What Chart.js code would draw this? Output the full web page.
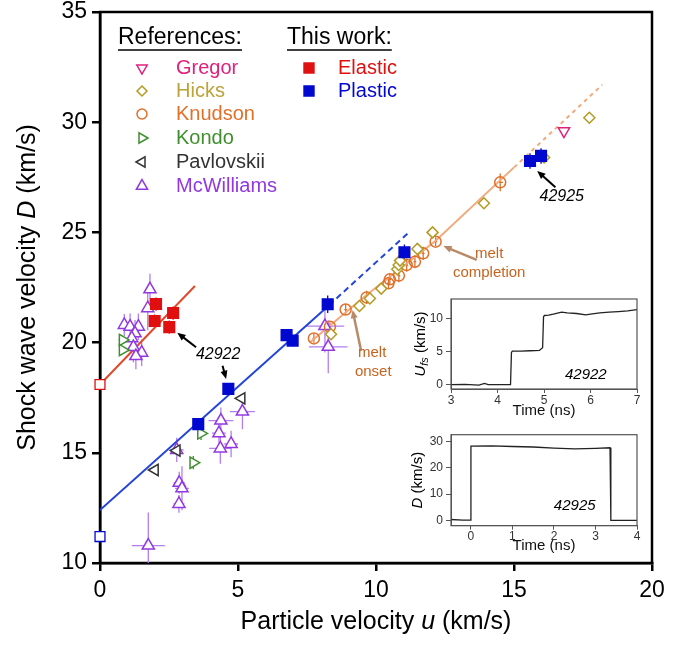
<!DOCTYPE html>
<html>
<head>
<meta charset="utf-8">
<script src="https://cdn.jsdelivr.net/npm/chart.js@4.4.1/dist/chart.umd.min.js"></script>
<style>
  html, body { margin: 0; padding: 0; background: #fff; }
  #wrap { position: relative; width: 688px; height: 647px; }
  canvas { position: absolute; }
</style>
</head>
<body>
<div id="wrap">
  <canvas id="main" width="688" height="647" style="left:0;top:0;width:688px;height:647px"></canvas>
  <canvas id="inset1" width="250" height="128" style="left:395px;top:292px;width:250px;height:128px"></canvas>
  <canvas id="inset2" width="250" height="127" style="left:395px;top:428px;width:250px;height:127px"></canvas>
</div>
<script>
// ---- data: particle velocity u (km/s), shock velocity D (km/s) ----
const gregorU = [16.81];
const gregorD = [29.6];

const hicksU = [8.37, 9.4, 9.78, 10.19, 10.77, 10.82, 10.87, 11.5, 12.05, 13.91, 16.09, 17.73];
const hicksD = [20.38, 21.66, 22.0, 22.45, 23.33, 23.52, 23.72, 24.25, 25.0, 26.32, 28.4, 30.2];

const knudsonU = [7.75, 8.33, 8.9, 9.66, 10.45, 10.5, 10.83, 11.11, 11.41, 11.71, 12.16, 14.5];
const knudsonD = [20.19, 20.72, 21.5, 22.05, 22.69, 22.87, 23.04, 23.52, 23.67, 24.05, 24.58, 27.27];
const knudsonUErr = [0.05, 0.05, 0.05, 0.05, 0.05, 0.05, 0.05, 0.05, 0.05, 0.05, 0.05, 0.1];
const knudsonDErr = [0.2, 0.2, 0.25, 0.3, 0.25, 0.25, 0.3, 0.3, 0.3, 0.3, 0.2, 0.4];

const kondoU = [0.82, 0.82, 3.66, 3.38];
const kondoD = [20.12, 19.66, 15.88, 14.55];
const kondoUErr = [0.15, 0.1, 0.1, 0.1];
const kondoDErr = [0.15, 0.15, 0.3, 0.3];

const pavlovskiiU = [5.13, 1.99, 2.78];
const pavlovskiiD = [17.47, 14.22, 15.1];

const mcwU = [1.81, 1.73, 0.88, 1.09, 1.39, 1.27, 1.15, 1.21, 1.51, 1.3, 4.38, 4.31, 4.36, 4.75, 5.16, 2.78, 2.87, 2.97, 2.86, 1.75, 8.15, 8.27];
const mcwD = [22.42, 21.56, 20.8, 20.72, 20.72, 20.42, 20.2, 19.8, 19.54, 19.39, 16.46, 15.89, 15.2, 15.4, 16.87, 15.13, 13.64, 13.39, 12.68, 10.79, 20.75, 19.81];
const mcwUErr = [0.08, 0.08, 0.1, 0.1, 0.1, 0.1, 0.1, 0.1, 0.1, 0.1, 0.45, 0.25, 0.4, 0.25, 0.45, 0.25, 0.2, 0.25, 0.2, 0.6, 0.7, 0.7];
const mcwDErr = [0.7, 1.0, 0.5, 0.6, 0.6, 0.6, 0.6, 0.7, 0.6, 0.6, 0.6, 0.5, 0.7, 0.6, 0.8, 0.55, 0.5, 1.0, 0.4, 1.5, 1.2, 1.2];

const elasticU = [2.03, 1.98, 2.65, 2.51];
const elasticD = [21.75, 20.98, 21.34, 20.7];
const elasticUErr = [0.1, 0.1, 0.1, 0.1];
const elasticDErr = [0.3, 0.3, 0.3, 0.3];

const plasticU = [3.56, 4.65, 6.76, 6.98, 8.25, 11.03, 15.58, 15.98];
const plasticD = [16.3, 17.9, 20.34, 20.09, 21.74, 24.1, 28.24, 28.47];
const plasticUErr = [0.08, 0.08, 0.08, 0.08, 0.08, 0.08, 0.08, 0.08];
const plasticDErr = [0.25, 0.25, 0.25, 0.25, 0.4, 0.35, 0.35, 0.35];

// intercepts at u = 0 (open squares)
const elasticZeroD = [18.1];
const plasticZeroD = [11.2];

// fit lines
const elasticFitU = [0, 3.44];
const elasticFitD = [18.1, 22.57];
const plasticFitU = [0, 8.3];
const plasticFitD = [12.4, 21.7];
const plasticExtU = [8.3, 11.16];
const plasticExtD = [21.7, 24.97];
const knudsonFitU = [7.6, 9.6, 12.14, 15.0];
const knudsonFitD = [20.0, 22.1, 24.6, 27.95];
const knudsonExtU = [15.0, 18.2];
const knudsonExtD = [27.95, 31.7];

// insets: free-surface velocity (shot 42922) and shock velocity (shot 42925) vs time (ns)
const ufsTime = [3.0, 3.3, 3.6, 3.72, 3.8, 4.0, 4.28, 4.3, 4.32, 4.5, 4.7, 4.9, 4.97, 4.99, 5.01, 5.1, 5.2, 5.38, 5.5, 5.7, 5.9, 6.0, 6.2, 6.4, 6.6, 6.8, 7.0];
const ufsVal  = [0.0, 0.05, -0.05, 0.2, 0.0, 0.0, 0.0, 4.9, 5.1, 5.1, 5.15, 5.2, 5.6, 10.3, 10.5, 10.55, 10.7, 11.0, 10.9, 10.8, 10.6, 10.7, 10.9, 11.0, 11.1, 11.2, 11.4];
const dTime = [-0.48, -0.2, -0.01, 0.0, 0.5, 1.0, 1.5, 2.0, 2.5, 3.0, 3.35, 3.37, 4.0];
const dVal  = [0.3, 0.1, 0.1, 28.3, 28.4, 28.2, 28.0, 27.6, 27.3, 27.5, 27.7, 0.0, 0.0];

// ---- styling ----
const FONT = "'Liberation Sans', Arial, sans-serif";
Chart.defaults.font.family = FONT;

const RED = '#e01010';
const BLUE = '#0008d0';
const PINK = '#e0207a';
const OLIVE = '#b49a22';
const ORANGE = '#e0702a';
const GREEN = '#3f8f2f';
const GREY = '#333333';
const PURPLE = '#9238e0';
const MELT = '#c8631e';
const MELT_ARROW = '#b98a66';

const pts = (us, ds) => us.map((u, i) => ({ x: u, y: ds[i] }));

function markers(label, us, ds, style, extra) {
  return Object.assign({
    label,
    data: pts(us, ds),
    pointStyle: style.shape,
    pointRotation: style.rot || 0,
    pointRadius: style.r,
    borderWidth: 1.5,
    pointBorderColor: style.color,
    pointBackgroundColor: style.fill || '#fff',
    showLine: false,
    order: 3
  }, extra || {});
}

function fitLine(us, ds, color, dash) {
  return {
    label: '',
    data: pts(us, ds),
    showLine: true,
    borderColor: color,
    borderWidth: 2,
    borderDash: dash || [],
    pointRadius: 0,
    order: 8
  };
}

const S = {
  Gregor: { shape: 'triangle', rot: 180, r: 6.5, color: PINK },
  Hicks: { shape: 'rectRot', r: 5.5, color: OLIVE },
  Knudson: { shape: 'circle', r: 5.5, color: ORANGE },
  Kondo: { shape: 'triangle', rot: 90, r: 6.5, color: GREEN },
  Pavlovskii: { shape: 'triangle', rot: -90, r: 6.5, color: GREY },
  McWilliams: { shape: 'triangle', r: 7, color: PURPLE },
  Elastic: { shape: 'rect', r: 7.5, color: RED, fill: RED },
  Plastic: { shape: 'rect', r: 7.5, color: BLUE, fill: BLUE }
};

const datasets = [
  markers('Elastic', elasticU, elasticD, S.Elastic, { errX: elasticUErr, errY: elasticDErr, errColor: RED, order: 1 }),
  markers('Plastic', plasticU, plasticD, S.Plastic, { errX: plasticUErr, errY: plasticDErr, errColor: BLUE, order: 1 }),
  markers('', [0], elasticZeroD, { shape: 'rect', r: 7, color: RED }, { clip: false, order: 1, borderWidth: 1.3 }),
  markers('', [0], plasticZeroD, { shape: 'rect', r: 7, color: BLUE }, { clip: false, order: 1, borderWidth: 1.3 }),
  markers('Gregor', gregorU, gregorD, S.Gregor),
  markers('Hicks', hicksU, hicksD, S.Hicks),
  markers('Knudson', knudsonU, knudsonD, S.Knudson, { errX: knudsonUErr, errY: knudsonDErr, errColor: ORANGE, pointBackgroundColor: 'rgba(255,255,255,0)' }),
  markers('Kondo', kondoU, kondoD, S.Kondo, { errX: kondoUErr, errY: kondoDErr, errColor: GREEN }),
  markers('Pavlovskii', pavlovskiiU, pavlovskiiD, S.Pavlovskii),
  markers('McWilliams', mcwU, mcwD, S.McWilliams, { errX: mcwUErr, errY: mcwDErr, errColor: '#b57ef0' }),
  fitLine(elasticFitU, elasticFitD, '#e04a2a'),
  fitLine(plasticFitU, plasticFitD, '#2444d8'),
  fitLine(plasticExtU, plasticExtD, '#2444d8', [6, 4]),
  fitLine(knudsonFitU, knudsonFitD, '#f2aa7c'),
  fitLine(knudsonExtU, knudsonExtD, '#f2aa7c', [4, 4])
];

// annotations in data coordinates
const notes = [
  { text: '42922', u: 4.28, D: 19.44, color: '#000', font: 'italic 16px ' + FONT },
  { text: '42925', u: 16.73, D: 26.62, color: '#000', font: 'italic 16px ' + FONT },
  { text: 'melt', u: 9.86, D: 19.53, color: MELT, font: '15px ' + FONT },
  { text: 'onset', u: 9.9, D: 18.67, color: MELT, font: '15px ' + FONT },
  { text: 'melt', u: 14.1, D: 24.02, color: MELT, font: '15px ' + FONT },
  { text: 'completion', u: 14.1, D: 23.16, color: MELT, font: '15px ' + FONT }
];
const arrows = [
  { from: [3.48, 19.79], to: [2.8, 20.45], color: '#000', w: 2 },
  { from: [4.44, 18.95], to: [4.57, 18.35], color: '#000', w: 2 },
  { from: [16.5, 27.05], to: [15.84, 27.79], color: '#000', w: 2 },
  { from: [9.46, 19.63], to: [9.15, 21.48], color: MELT_ARROW, w: 2.5 },
  { from: [13.65, 23.75], to: [12.44, 24.38], color: MELT_ARROW, w: 2.5 }
];

function drawArrow(ctx, x1, y1, x2, y2, color, w) {
  const a = Math.atan2(y2 - y1, x2 - x1);
  const head = 9;
  ctx.save();
  ctx.strokeStyle = color;
  ctx.fillStyle = color;
  ctx.lineWidth = w;
  ctx.beginPath();
  ctx.moveTo(x1, y1);
  ctx.lineTo(x2 - Math.cos(a) * head * 0.8, y2 - Math.sin(a) * head * 0.8);
  ctx.stroke();
  ctx.beginPath();
  ctx.moveTo(x2, y2);
  ctx.lineTo(x2 - head * Math.cos(a - 0.4), y2 - head * Math.sin(a - 0.4));
  ctx.lineTo(x2 - head * Math.cos(a + 0.4), y2 - head * Math.sin(a + 0.4));
  ctx.closePath();
  ctx.fill();
  ctx.restore();
}

// text made of runs with different fonts, centred at (x, y), optionally rotated
function drawRich(ctx, runs, x, y, angle) {
  ctx.save();
  ctx.translate(x, y);
  ctx.rotate(angle || 0);
  ctx.textBaseline = 'middle';
  ctx.textAlign = 'left';
  let total = 0;
  runs.forEach(r => { ctx.font = r.font; total += ctx.measureText(r.text).width; });
  let cx = -total / 2;
  runs.forEach(r => {
    ctx.font = r.font;
    ctx.fillStyle = r.color || '#000';
    ctx.fillText(r.text, cx, r.dy || 0);
    cx += ctx.measureText(r.text).width;
  });
  ctx.restore();
}

const errorBars = {
  id: 'errorBars',
  beforeDatasetsDraw(chart) {
    const { ctx, chartArea, scales: { x, y } } = chart;
    ctx.save();
    ctx.beginPath();
    ctx.rect(chartArea.left, chartArea.top, chartArea.right - chartArea.left, chartArea.bottom - chartArea.top);
    ctx.clip();
    chart.data.datasets.forEach(ds => {
      if (!ds.errX && !ds.errY) return;
      ctx.strokeStyle = ds.errColor;
      ctx.lineWidth = 1.3;
      ds.data.forEach((p, j) => {
        const px = x.getPixelForValue(p.x);
        const py = y.getPixelForValue(p.y);
        const ex = ds.errX ? ds.errX[j] : 0;
        const ey = ds.errY ? ds.errY[j] : 0;
        ctx.beginPath();
        if (ex) {
          ctx.moveTo(x.getPixelForValue(p.x - ex), py);
          ctx.lineTo(x.getPixelForValue(p.x + ex), py);
        }
        if (ey) {
          ctx.moveTo(px, y.getPixelForValue(p.y - ey));
          ctx.lineTo(px, y.getPixelForValue(p.y + ey));
        }
        ctx.stroke();
      });
    });
    ctx.restore();
  }
};

const frame = {
  id: 'frame',
  beforeDatasetsDraw(chart, args, opts) {
    const { ctx, chartArea: a } = chart;
    ctx.save();
    ctx.strokeStyle = opts.color;
    ctx.lineWidth = opts.width;
    ctx.strokeRect(a.left, a.top, a.right - a.left, a.bottom - a.top);
    ctx.restore();
  }
};

const decorations = {
  id: 'decorations',
  afterDraw(chart) {
    const { ctx, chartArea: a, scales: { x, y } } = chart;

    // axis titles
    drawRich(ctx, [
      { text: 'Particle velocity ', font: '25px ' + FONT },
      { text: 'u', font: 'italic 25px ' + FONT },
      { text: ' (km/s)', font: '25px ' + FONT }
    ], (a.left + a.right) / 2, 622, 0);
    drawRich(ctx, [
      { text: 'Shock wave velocity ', font: '25px ' + FONT },
      { text: 'D', font: 'italic 25px ' + FONT },
      { text: ' (km/s)', font: '25px ' + FONT }
    ], 28, (a.top + a.bottom) / 2, -Math.PI / 2);

    // legend
    ctx.save();
    ctx.textBaseline = 'middle';
    ctx.textAlign = 'left';
    ctx.font = '23px ' + FONT;
    ctx.fillStyle = '#000';
    ctx.strokeStyle = '#000';
    ctx.lineWidth = 1.3;
    [['References:', 118], ['This work:', 287]].forEach(([t, lx]) => {
      ctx.fillText(t, lx, 38);
      const w = ctx.measureText(t).width;
      ctx.beginPath();
      ctx.moveTo(lx, 50);
      ctx.lineTo(lx + w, 50);
      ctx.stroke();
    });
    const refs = ['Gregor', 'Hicks', 'Knudson', 'Kondo', 'Pavlovskii', 'McWilliams'];
    const ours = ['Elastic', 'Plastic'];
    const rowY = [68, 91, 114, 138, 162, 186];
    const colors = { Gregor: PINK, Hicks: '#bba33a', Knudson: ORANGE, Kondo: GREEN, Pavlovskii: GREY, McWilliams: PURPLE, Elastic: RED, Plastic: BLUE };
    const put = (name, mx, tx, ty) => {
      const st = S[name];
      ctx.fillStyle = st.fill || '#fff';
      ctx.strokeStyle = st.color;
      ctx.lineWidth = 1.5;
      const r = st.shape === 'rect' ? 7 : st.r - 0.5;
      Chart.helpers.drawPoint(ctx, { pointStyle: st.shape, rotation: st.rot || 0, radius: r, borderWidth: 1.5 }, mx, ty);
      ctx.font = '20px ' + FONT;
      ctx.fillStyle = colors[name];
      ctx.fillText(name, tx, ty);
    };
    refs.forEach((n, i) => put(n, 142, 176, rowY[i]));
    ours.forEach((n, i) => put(n, 309, 338, rowY[i]));
    ctx.restore();

    // annotations
    arrows.forEach(ar => drawArrow(ctx,
      x.getPixelForValue(ar.from[0]), y.getPixelForValue(ar.from[1]),
      x.getPixelForValue(ar.to[0]), y.getPixelForValue(ar.to[1]), ar.color, ar.w));
    ctx.save();
    ctx.textAlign = 'center';
    ctx.textBaseline = 'middle';
    notes.forEach(n => {
      ctx.font = n.font;
      ctx.fillStyle = n.color;
      ctx.fillText(n.text, x.getPixelForValue(n.u), y.getPixelForValue(n.D));
    });
    ctx.restore();
  }
};

new Chart(document.getElementById('main'), {
  type: 'scatter',
  data: { datasets },
  options: {
    responsive: false,
    animation: false,
    events: [],
    layout: { padding: { left: 0, top: 12, right: 36, bottom: 0 } },
    plugins: {
      legend: { display: false },
      tooltip: { enabled: false },
      frame: { color: '#000', width: 2.5 }
    },
    scales: {
      x: {
        type: 'linear', min: 0, max: 20,
        afterFit: s => { s.height = 84; s.paddingLeft = 0; s.paddingRight = 0; },
        ticks: { stepSize: 5, color: '#000', font: { size: 23 }, padding: 6 },
        grid: { drawOnChartArea: false, tickLength: 8, lineWidth: 2.5, color: '#000' },
        border: { width: 2.5, color: '#000' }
      },
      y: {
        type: 'linear', min: 10, max: 35,
        afterFit: s => { s.width = 100; s.paddingTop = 0; s.paddingBottom = 0; },
        ticks: { stepSize: 5, color: '#000', font: { size: 23 }, padding: 5 },
        grid: { drawOnChartArea: false, tickLength: 8, lineWidth: 2.5, color: '#000' },
        border: { width: 2.5, color: '#000' }
      }
    }
  },
  plugins: [frame, errorBars, decorations]
});

// ---- insets ----
function insetChart(id, times, vals, cfg) {
  const yTitle = {
    id: 'yTitle',
    afterDraw(chart) {
      const { ctx, chartArea: a } = chart;
      ctx.save();
      ctx.strokeStyle = '#555';
      ctx.lineWidth = 1.2;
      ctx.strokeRect(a.left, a.top, a.right - a.left, a.bottom - a.top);
      ctx.restore();
      drawRich(ctx, cfg.title, cfg.titleX, (a.top + a.bottom) / 2, -Math.PI / 2);
      ctx.save();
      ctx.font = 'italic 15px ' + FONT;
      ctx.fillStyle = '#000';
      ctx.textAlign = 'center';
      ctx.textBaseline = 'middle';
      ctx.fillText(cfg.shot, chart.scales.x.getPixelForValue(cfg.shotAt[0]), chart.scales.y.getPixelForValue(cfg.shotAt[1]));
      ctx.restore();
    }
  };
  return new Chart(document.getElementById(id), {
    type: 'line',
    data: { datasets: [{ data: pts(times, vals), borderColor: '#222', borderWidth: 1.3, pointRadius: 0, tension: 0 }] },
    options: {
      responsive: false,
      animation: false,
      events: [],
      layout: { padding: { left: 0, top: cfg.padTop, right: 8, bottom: 0 } },
      plugins: { legend: { display: false }, tooltip: { enabled: false } },
      scales: {
        x: {
          type: 'linear', min: cfg.x[0], max: cfg.x[1],
          afterFit: s => { s.height = cfg.xh; s.paddingLeft = 0; s.paddingRight = 0; },
          ticks: { stepSize: 1, includeBounds: false, color: '#333', font: { size: 12 }, padding: 0 },
          grid: { drawOnChartArea: false, tickLength: 4, color: '#555' },
          border: { color: '#555' },
          title: { display: true, text: 'Time (ns)', color: '#111', font: { size: 15 }, padding: 0 }
        },
        y: {
          type: 'linear', min: cfg.y[0], max: cfg.y[1],
          afterFit: s => { s.width = 56; s.paddingTop = 0; s.paddingBottom = 0; },
          ticks: { stepSize: cfg.ystep, includeBounds: false, color: '#333', font: { size: 12 }, padding: 3 },
          grid: { drawOnChartArea: false, tickLength: 5, color: '#555' },
          border: { color: '#555' }
        }
      }
    },
    plugins: [yTitle]
  });
}

insetChart('inset1', ufsTime, ufsVal, {
  x: [3, 7], y: [-0.65, 13], ystep: 5, padTop: 7, xh: 31, titleX: 26,
  title: [
    { text: 'U', font: 'italic 15px ' + FONT },
    { text: 'fs', font: 'italic 11px ' + FONT, dy: 4 },
    { text: ' (km/s)', font: '15px ' + FONT }
  ],
  shot: '42922', shotAt: [5.9, 1.5]
});

insetChart('inset2', dTime, dVal, {
  x: [-0.48, 4], y: [-2.06, 32.7], ystep: 10, padTop: 6.7, xh: 29.3, titleX: 23,
  title: [
    { text: 'D', font: 'italic 15px ' + FONT },
    { text: ' (km/s)', font: '15px ' + FONT }
  ],
  shot: '42925', shotAt: [2.5, 5.7]
});
</script>
</body>
</html>
